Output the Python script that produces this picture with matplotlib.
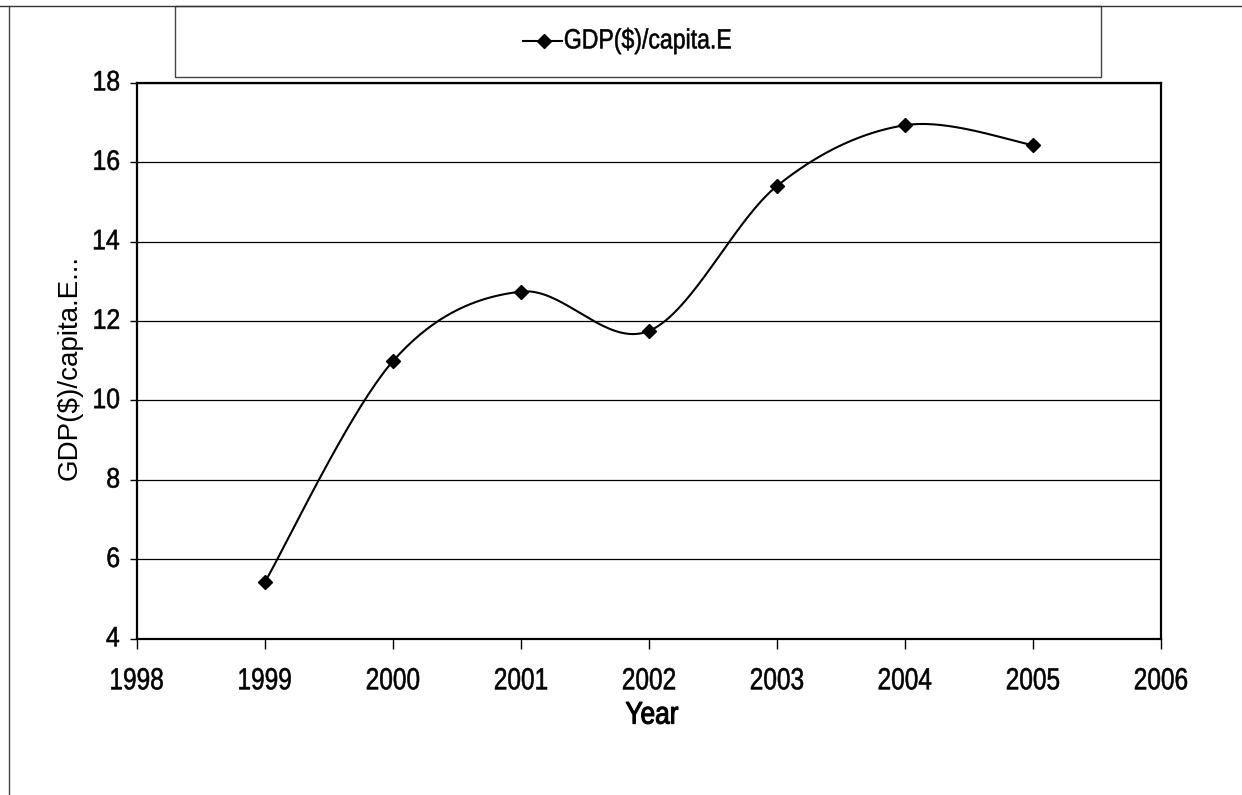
import numpy as np
import matplotlib
matplotlib.use("Agg")
import matplotlib.pyplot as plt
from matplotlib.lines import Line2D
from matplotlib.patches import Rectangle, PathPatch
from matplotlib.textpath import TextPath
from matplotlib.font_manager import FontProperties
from matplotlib.transforms import Affine2D, ScaledTranslation, blended_transform_factory

# GDP per capita by year
years = [1999, 2000, 2001, 2002, 2003, 2004, 2005]
gdp = [5.43, 10.99, 12.74, 11.75, 15.40, 16.93, 16.43]

series_name = "GDP($)/capita.E"
y_title = "GDP($)/capita.E..."
x_title = "Year"
x_ticks = list(range(1998, 2007))
y_ticks = list(range(4, 19, 2))

FONT = ["Liberation Sans", "DejaVu Sans"]


def smooth_curve(x, y, steps=40):
    """Bezier smoothing through every point (Catmull-Rom style tangents)."""
    x = np.asarray(x, float)
    y = np.asarray(y, float)
    px = np.concatenate([[x[0]], x, [x[-1]]])
    py = np.concatenate([[y[0]], y, [y[-1]]])
    xs, ys = [], []
    t = np.linspace(0, 1, steps)
    for i in range(1, len(px) - 2):
        p0 = np.array([px[i], py[i]])
        p3 = np.array([px[i + 1], py[i + 1]])
        c1 = p0 + (p3 - np.array([px[i - 1], py[i - 1]])) / 6
        c2 = p3 - (np.array([px[i + 2], py[i + 2]]) - p0) / 6
        b = ((1 - t) ** 3)[:, None] * p0 + (3 * (1 - t) ** 2 * t)[:, None] * c1 \
            + (3 * (1 - t) * t ** 2)[:, None] * c2 + (t ** 3)[:, None] * p3
        xs.extend(b[:, 0])
        ys.extend(b[:, 1])
    return np.array(xs), np.array(ys)


W, H = 1242, 795
fig = plt.figure(figsize=(W / 100, H / 100), dpi=100)


def squeezed_text(s, x, y, trans, size, squeeze, ha="center", va="center", weight=0.4):
    """Horizontally condensed text, drawn as a glyph path."""
    tp = TextPath((0, 0), s, prop=FontProperties(family=FONT, size=size))
    bb = tp.get_extents()
    ox = {"left": bb.x0, "center": (bb.x0 + bb.x1) / 2, "right": bb.x1}[ha]
    oy = {"bottom": bb.y0, "center": (bb.y0 + bb.y1) / 2, "top": bb.y1}[va]
    k = fig.dpi / 72
    tr = Affine2D().translate(-ox, -oy).scale(squeeze * k, k) + ScaledTranslation(x, y, trans)
    fig.add_artist(PathPatch(tp, transform=tr, facecolor="black", edgecolor="black",
                             lw=weight, clip_on=False))


ax = fig.add_axes([137 / W, 1 - 638.7 / H, (1161 - 137) / W, (638.7 - 82.7) / H])

sx, sy = smooth_curve(years, gdp)
ax.plot(sx, sy, color="black", lw=1.5, zorder=3)
ax.plot(years, gdp, ls="none", marker="D", ms=7, color="black", zorder=4)

ax.set_xlim(1998, 2006)
ax.set_ylim(4, 18)
ax.set_xticks(x_ticks)
ax.set_yticks(y_ticks)
ax.yaxis.grid(True, color="black", lw=0.9)
ax.set_axisbelow(True)

for s in ax.spines.values():
    s.set_linewidth(1.6)
    s.set_color("black")

ax.tick_params(axis="x", direction="out", length=7, width=1, labelbottom=False)
ax.tick_params(axis="y", direction="out", length=5, width=1, labelleft=False)

# condensed tick labels
xlab_trans = blended_transform_factory(ax.transData, fig.transFigure)
for yr in x_ticks:
    squeezed_text(str(yr), yr, 1 - 668 / H, xlab_trans, 22, 0.8, ha="center", va="top")
ylab_trans = blended_transform_factory(fig.transFigure, ax.transData)
for v in y_ticks:
    squeezed_text(str(v), 119 / W, v + 0.05, ylab_trans, 20.3, 0.88, ha="right", va="center")

fig.text(70 / W, 1 - 367 / H, y_title, rotation=90, ha="center", va="center",
         fontsize=20, family=FONT)
squeezed_text(x_title, 652 / W, 1 - 713 / H, fig.transFigure, 22.5, 0.84, weight=0.8)

# chart area frame and legend box
fig.add_artist(Line2D([0, 1], [1 - 6 / H, 1 - 6 / H], color="#333333", lw=1))
fig.add_artist(Line2D([9 / W, 9 / W], [0, 1 - 6 / H], color="#444444", lw=1))
fig.add_artist(Rectangle((175 / W, 1 - 77 / H), (1101 - 175) / W, (77 - 6) / H,
                         fill=False, edgecolor="#444444", lw=1))

leg_y = 1 - 41 / H
fig.add_artist(Line2D([523 / W, 562 / W], [leg_y, leg_y], color="black", lw=1.5))
fig.add_artist(Line2D([544 / W], [leg_y], color="black", marker="D", ms=7))
squeezed_text(series_name, 565 / W, leg_y, fig.transFigure, 20, 0.83, ha="left", va="center")

fig.savefig("out.png", dpi=100)
